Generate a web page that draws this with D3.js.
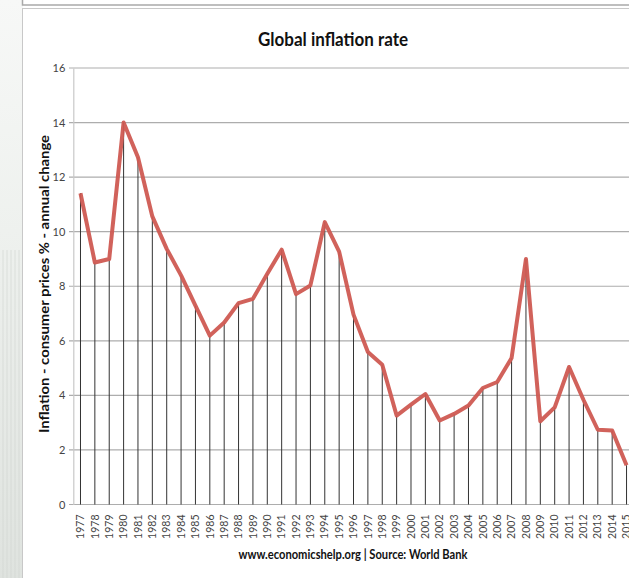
<!DOCTYPE html>
<html>
<head>
<meta charset="utf-8">
<script src="https://cdn.jsdelivr.net/npm/d3@7"></script>
<style>
  html, body { margin: 0; padding: 0; background: #fff; }
  svg { display: block; }
</style>
</head>
<body>
<svg id="chart" width="629" height="578"></svg>
<script>
// Global consumer price inflation, annual % change (World Bank)
const years = ["1977","1978","1979","1980","1981","1982","1983","1984","1985","1986",
  "1987","1988","1989","1990","1991","1992","1993","1994","1995","1996",
  "1997","1998","1999","2000","2001","2002","2003","2004","2005","2006",
  "2007","2008","2009","2010","2011","2012","2013","2014","2015"];
const inflation = [11.41, 8.87, 9.0, 14.0, 12.73, 10.56, 9.37, 8.40, 7.29, 6.19,
  6.67, 7.38, 7.54, 8.46, 9.34, 7.71, 8.03, 10.35, 9.27, 6.96,
  5.59, 5.12, 3.26, 3.66, 4.05, 3.08, 3.32, 3.63, 4.27, 4.49,
  5.37, 9.0, 3.05, 3.56, 5.04, 3.84, 2.74, 2.71, 1.44];
const yTicks = [0, 2, 4, 6, 8, 10, 12, 14, 16];

const titleText = "Global inflation rate";
const yLabel = "Inflation - consumer prices %  - annual change";
const sourceText = "www.economicshelp.org | Source: World Bank";

const svg = d3.select("#chart");
const W = 629, H = 578;
const font = "Lato, 'Open Sans', sans-serif";

// faded page backdrop on the far left
const bg = svg.append("defs").append("linearGradient")
  .attr("id", "leftFade").attr("x1", 0).attr("y1", 0).attr("x2", 0).attr("y2", 1);
bg.append("stop").attr("offset", "0%").attr("stop-color", "#f7f8f7");
bg.append("stop").attr("offset", "40%").attr("stop-color", "#eef1ee");
bg.append("stop").attr("offset", "100%").attr("stop-color", "#dfe3df");
svg.append("rect").attr("x", 0).attr("y", 0).attr("width", 23).attr("height", H)
  .attr("fill", "url(#leftFade)");
svg.append("g").selectAll("line").data([3, 7, 11, 15, 19]).join("line")
  .attr("x1", d => d).attr("x2", d => d).attr("y1", 250).attr("y2", H)
  .attr("stroke", "#d0d4d0").attr("stroke-width", 1).attr("opacity", 0.6);

// panel frames
svg.append("rect").attr("x", 22.5).attr("y", -10).attr("width", W).attr("height", 15)
  .attr("fill", "#fff").attr("stroke", "#a9a9a9").attr("stroke-width", 1.5);
svg.append("rect").attr("x", 22.5).attr("y", 8.5).attr("width", W).attr("height", H)
  .attr("fill", "#fff").attr("stroke", "#c8c8c8").attr("stroke-width", 1);

const x = d3.scaleBand().domain(years).range([73.3, 73.3 + 39 * 14.37]);
const y = d3.scaleLinear().domain([0, 16]).range([504.5, 68]);
const cx = d => x(d) + x.bandwidth() / 2;

// horizontal gridlines
svg.append("g").selectAll("line").data(yTicks).join("line")
  .attr("x1", 69).attr("x2", W)
  .attr("y1", d => y(d)).attr("y2", d => y(d))
  .attr("stroke", "#adadad").attr("stroke-width", 1.2);

// vertical axis
const yAxis = d3.axisLeft(y).tickValues(yTicks).tickSize(0).tickPadding(8);
const ya = svg.append("g").attr("transform", "translate(73.3,0)").call(yAxis);
ya.select(".domain").attr("stroke", "#c8c8c8").attr("stroke-width", 1.2);
ya.selectAll("text").attr("font-family", font).attr("font-size", 11)
  .attr("fill", "#444");

// drop lines from each point to the baseline
svg.append("g").selectAll("line").data(years).join("line")
  .attr("x1", d => cx(d)).attr("x2", d => cx(d))
  .attr("y1", (d, i) => y(inflation[i])).attr("y2", y(0))
  .attr("stroke", "#333").attr("stroke-width", 1);

// category axis labels
const xAxis = d3.axisBottom(x).tickSize(0).tickPadding(0);
const xa = svg.append("g").attr("transform", `translate(0,${y(0)})`).call(xAxis);
xa.select(".domain").remove();
xa.selectAll("text")
  .attr("font-family", font).attr("font-size", 10.5).attr("fill", "#444")
  .attr("transform", "rotate(-90)")
  .attr("text-anchor", "end").attr("dy", "0.35em")
  .attr("x", -10).attr("y", 0);

// inflation line
const line = d3.line().x((d, i) => cx(years[i])).y(d => y(d));
svg.append("path").datum(inflation)
  .attr("d", line)
  .attr("fill", "none").attr("stroke", "#cf5a52").attr("stroke-width", 4)
  .attr("stroke-linejoin", "round").attr("stroke-linecap", "butt")
  .attr("opacity", 0.95);

// titles
svg.append("text").attr("x", 333).attr("y", 46).attr("text-anchor", "middle")
  .attr("font-family", font).attr("font-weight", "bold").attr("font-size", 19.5)
  .attr("textLength", 150).attr("lengthAdjust", "spacingAndGlyphs")
  .attr("fill", "#111").text(titleText);

svg.append("text")
  .attr("transform", "translate(49,284) rotate(-90)")
  .attr("text-anchor", "middle")
  .attr("font-family", font).attr("font-weight", "bold").attr("font-size", 13.5)
  .attr("textLength", 298).attr("lengthAdjust", "spacingAndGlyphs")
  .attr("fill", "#111").text(yLabel);

svg.append("text").attr("x", 353).attr("y", 559).attr("text-anchor", "middle")
  .attr("font-family", font).attr("font-weight", "bold").attr("font-size", 13)
  .attr("textLength", 229).attr("lengthAdjust", "spacingAndGlyphs")
  .attr("fill", "#111").text(sourceText);
</script>
</body>
</html>
